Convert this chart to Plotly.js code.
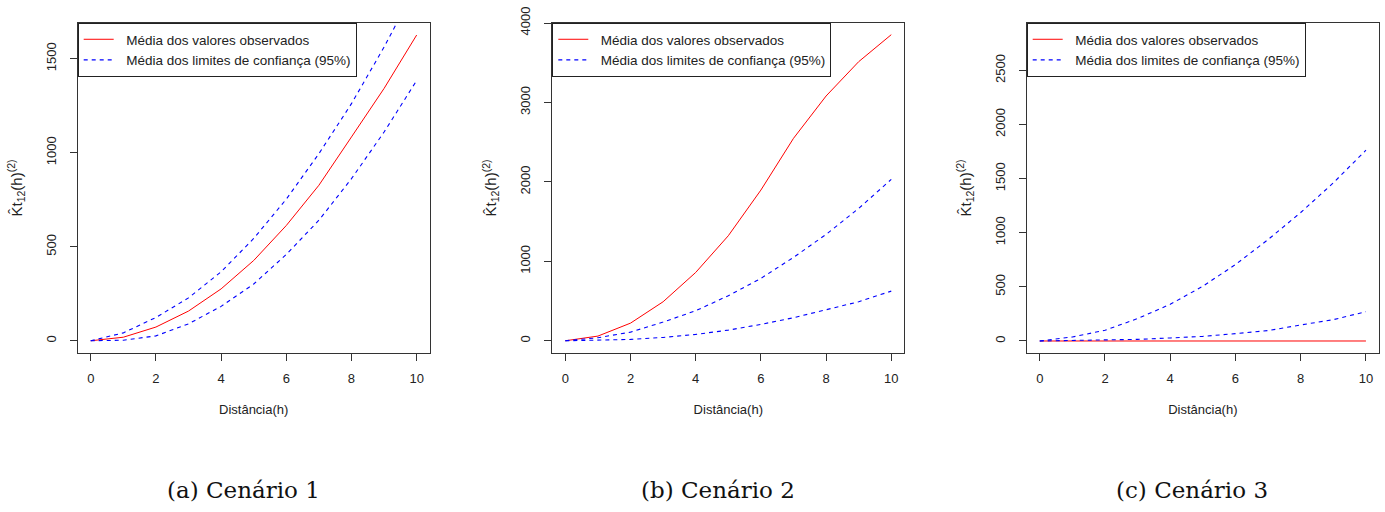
<!DOCTYPE html>
<html>
<head>
<meta charset="utf-8">
<script src="https://cdn.plot.ly/plotly-3.0.1.min.js"></script>
<style>html,body{margin:0;padding:0;background:#fff;}#chart{width:1385px;height:512px;}</style>
</head>
<body>
<div id="chart"></div>
<script>
// ---- data ----
const h = [0, 1, 2, 3, 4, 5, 6, 7, 8, 9, 10];
const obs1   = [0, 19, 73, 158, 276, 427, 613, 827, 1084, 1342, 1626];
const upper1 = [0, 42, 124, 228, 367, 544, 753, 995, 1261, 1562, 1890];
const lower1 = [0, 3, 26, 90, 183, 302, 459, 641, 862, 1110, 1384];
const obs2   = [0, 59, 222, 491, 860, 1322, 1897, 2548, 3081, 3513, 3853];
const upper2 = [0, 38, 109, 235, 378, 567, 785, 1049, 1339, 1666, 2031];
const lower2 = [0, 4, 17, 42, 80, 134, 206, 290, 386, 491, 625];
const obs3   = [0, 0, 0, 0, 0, 0, 0, 0, 0, 0, 0];
const upper3 = [0, 37, 99, 207, 339, 506, 706, 937, 1187, 1461, 1763];
const lower3 = [0, 3, 6, 15, 28, 43, 68, 96, 148, 197, 271];
const xTicks = [0, 2, 4, 6, 8, 10];
const yTicks1 = [0, 500, 1000, 1500];
const yTicks2 = [0, 1000, 2000, 3000, 4000];
const yTicks3 = [0, 500, 1000, 1500, 2000, 2500];
const captions = ['(a) Cenário 1', '(b) Cenário 2', '(c) Cenário 3'];
const nameObs = 'Média dos valores observados';
const nameCI = 'Média dos limites de confiança (95%)';
const xTitle = 'Distância(h)';
const yTitle = 'K\u0302t<sub>12</sub>(h)<sup>(2)</sup>';

// ---- layout geometry (pixels) ----
const W = 1385, H = 512;
const panelsPx = [[77.7, 429.7], [552.3, 904.3], [1026.7, 1379]];
const yTopPx = 23, yBotPx = 353;
const yRanges = [[-65, 1690], [-154, 4000], [-111, 2938]];
const yTickSets = [yTicks1, yTicks2, yTicks3];
const series = [[obs1, upper1, lower1], [obs2, upper2, lower2], [obs3, upper3, lower3]];

const red = '#FF0000', blue = '#0000FF';
const font = 'Liberation Sans, Arial, Helvetica, sans-serif';
const txtColor = '#222';
const pad = '\u00a0\u00a0';

const traces = [];
const layout = {
  width: W, height: H,
  margin: {l: 0, r: 0, t: 0, b: 0},
  paper_bgcolor: '#fff', plot_bgcolor: '#fff',
  font: {family: font, size: 13, color: txtColor},
  showlegend: true,
  annotations: [],
};

for (let i = 0; i < 3; i++) {
  const sfx = i === 0 ? '' : String(i + 1);
  const xa = 'x' + sfx, ya = 'y' + sfx;
  const lg = i === 0 ? 'legend' : 'legend' + (i + 1);
  const [obs, up, lo] = series[i];
  traces.push({x: h, y: obs, xaxis: xa, yaxis: ya, type: 'scatter', mode: 'lines',
    line: {color: red, width: 1}, name: pad + nameObs, legend: lg, showlegend: true, hoverinfo: 'skip'});
  traces.push({x: h, y: up, xaxis: xa, yaxis: ya, type: 'scatter', mode: 'lines',
    line: {color: blue, width: 1.1, dash: '4px,4px'}, name: pad + nameCI, legend: lg, showlegend: true, hoverinfo: 'skip'});
  traces.push({x: h, y: lo, xaxis: xa, yaxis: ya, type: 'scatter', mode: 'lines',
    line: {color: blue, width: 1.1, dash: '4px,4px'}, name: pad + nameCI, legend: lg, showlegend: false, hoverinfo: 'skip'});

  const [x0, x1] = panelsPx[i];
  const axCommon = {
    showgrid: false, zeroline: false, showline: true, mirror: true,
    linecolor: '#333', linewidth: 1, ticks: 'outside', ticklen: 7, tickwidth: 1,
    tickcolor: '#333', tickfont: {family: font, size: 13, color: txtColor},
    fixedrange: true,
  };
  layout['xaxis' + sfx] = Object.assign({}, axCommon, {
    domain: [x0 / W, x1 / W], anchor: ya, range: [-0.4, 10.4],
    tickvals: xTicks, ticktext: xTicks.map(String),
    ticklabelstandoff: 6,
    title: {text: xTitle, font: {family: font, size: 13, color: txtColor}, standoff: 20},
  });
  layout['yaxis' + sfx] = Object.assign({}, axCommon, {
    domain: [1 - yBotPx / H, 1 - yTopPx / H], anchor: xa, range: yRanges[i],
    tickvals: yTickSets[i], ticktext: yTickSets[i].map(String), tickangle: -90,
    ticklabelstandoff: 9,
    title: {text: yTitle, font: {family: font, size: 15, color: txtColor}, standoff: 17},
  });
  layout[lg] = {
    x: x0 / W, y: 1 - yTopPx / H, xanchor: 'left', yanchor: 'top',
    bgcolor: '#fff', bordercolor: '#222', borderwidth: 1,
    font: {family: font, size: 13.5, color: txtColor},
    itemwidth: 30, tracegroupgap: 0,
  };
  layout.annotations.push({
    xref: 'paper', yref: 'paper', x: ((x0 + x1) / 2 - 10.5) / W, y: 1 - 490 / H,
    xanchor: 'center', yanchor: 'middle', showarrow: false,
    text: captions[i], font: {family: 'DejaVu Serif, Liberation Serif, serif', size: 23, color: '#111'},
  });
}

Plotly.newPlot('chart', traces, layout, {staticPlot: true, displayModeBar: false});
</script>
</body>
</html>
